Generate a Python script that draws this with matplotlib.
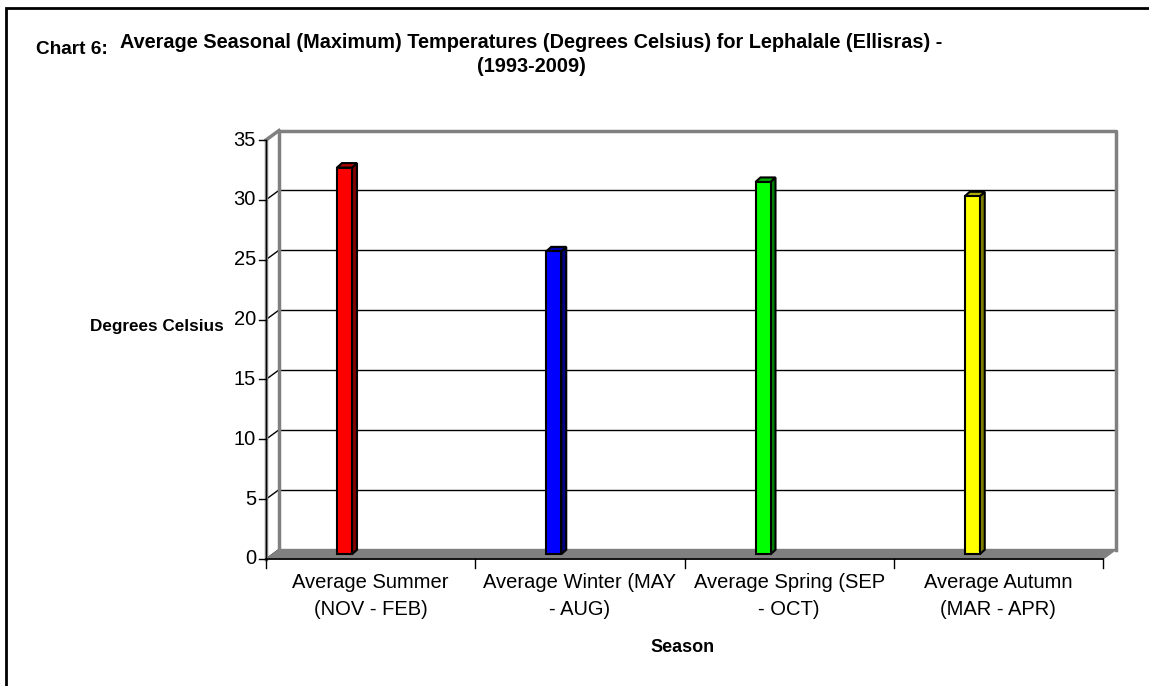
import matplotlib
matplotlib.use("Agg")
import matplotlib.pyplot as plt
from matplotlib.patches import Polygon, Rectangle
from matplotlib.lines import Line2D

plt.rcParams['font.family'] = ['Liberation Sans', 'DejaVu Sans']

categories = ["Average Summer\n(NOV - FEB)", "Average Winter (MAY\n- AUG)",
              "Average Spring (SEP\n- OCT)", "Average Autumn\n(MAR - APR)"]
values = [32.3, 25.3, 31.1, 29.9]
colors = ["#FF0000", "#0000FF", "#00FF00", "#FFFF00"]
side_colors = ["#800000", "#000080", "#008000", "#808000"]
top_colors = ["#B00000", "#0000B0", "#00B000", "#B0B000"]
yticks = [0, 5, 10, 15, 20, 25, 30, 35]

W, H = 1149, 686
fig = plt.figure(figsize=(W / 100, H / 100), dpi=100)

def fx(px):
    return px / W

def fy(py):
    return 1 - py / H

# front plane of plot in pixels
x0p, x1p, y0p, y1p = 266, 1103, 559, 140
ax = fig.add_axes([fx(x0p), fy(y0p), fx(x1p) - fx(x0p), fy(y1p) - fy(y0p)])
n = len(categories)
ymax = 35
ax.set_xlim(0, n)
ax.set_ylim(0, ymax)
ax.axis('off')

pxx = (x1p - x0p) / n          # pixels per category
pxy = (y0p - y1p) / ymax       # pixels per unit
DX = 13 / pxx                  # back-plane offset
DY = 9.5 / pxy

# back wall gridlines and diagonals
for v in yticks[1:]:
    ax.add_line(Line2D([DX, n + DX], [v + DY, v + DY], color='black', lw=1.0, clip_on=False, zorder=1))
for v in yticks:
    ax.add_line(Line2D([0, DX], [v, v + DY], color='black', lw=1.0, clip_on=False, zorder=1))
    ax.add_line(Line2D([-7 / pxx, 0], [v, v], color='black', lw=1.0, clip_on=False, zorder=3))

# back wall frame (gray)
ax.add_line(Line2D([DX, DX, n + DX, n + DX], [DY, ymax + DY, ymax + DY, DY],
                   color='#808080', lw=2.5, clip_on=False, zorder=2))
# left side wall edges
ax.add_line(Line2D([0, 0], [0, ymax], color='#808080', lw=2.5, clip_on=False, zorder=2))
ax.add_line(Line2D([0, DX], [ymax, ymax + DY], color='#808080', lw=2.5, clip_on=False, zorder=2))
ax.add_line(Line2D([0, 0], [0, ymax], color='black', lw=0.8, clip_on=False, zorder=3))

# floor
floor = Polygon([[0, 0], [DX, DY], [n + DX, DY], [n, 0]], closed=True,
                facecolor='#808080', edgecolor='#808080', lw=1, clip_on=False, zorder=2)
ax.add_patch(floor)
ax.add_line(Line2D([0, n], [0, 0], color='black', lw=1.2, clip_on=False, zorder=3))
for i in range(n + 1):
    ax.add_line(Line2D([i, i], [0, -9 / pxy], color='black', lw=1.0, clip_on=False, zorder=3))

# bars (at mid depth)
mdx, mdy = DX / 2, DY / 2
a = 64.5 / pxx
bw = 15 / pxx
ddx, ddy = 5 / pxx, 4.5 / pxy
for i, v in enumerate(values):
    xl = i + a + mdx
    xr = xl + bw
    yb = mdy
    yt = v + mdy
    front = Polygon([[xl, yb], [xr, yb], [xr, yt], [xl, yt]], closed=True,
                    facecolor=colors[i], edgecolor='black', lw=1.5, clip_on=False, zorder=5)
    side = Polygon([[xr, yb], [xr + ddx, yb + ddy], [xr + ddx, yt + ddy], [xr, yt]], closed=True,
                   facecolor=side_colors[i], edgecolor='black', lw=1.5, clip_on=False, zorder=5)
    top = Polygon([[xl, yt], [xr, yt], [xr + ddx, yt + ddy], [xl + ddx, yt + ddy]], closed=True,
                  facecolor=top_colors[i], edgecolor='black', lw=1.5, clip_on=False, zorder=5)
    ax.add_patch(side)
    ax.add_patch(top)
    ax.add_patch(front)

# tick labels
for v in yticks:
    ax.text(-10 / pxx, v, str(v), ha='right', va='center', fontsize=14.5, clip_on=False)
for i, c in enumerate(categories):
    ax.text(i + 0.5, -14.5 / pxy, c, ha='center', va='top', fontsize=14.5,
            linespacing=1.5, clip_on=False)

# axis titles
fig.text(fx(683), fy(647), "Season", ha='center', va='center', fontsize=13, fontweight='bold')
fig.text(fx(157), fy(327), "Degrees Celsius", ha='center', va='center', fontsize=12.3, fontweight='bold')

# chart title
fig.text(fx(36), fy(50), "Chart 6:", ha='left', va='center', fontsize=13.7, fontweight='bold')
fig.text(fx(531), fy(42), "Average Seasonal (Maximum) Temperatures (Degrees Celsius) for Lephalale (Ellisras) -",
         ha='center', va='center', fontsize=14.3, fontweight='bold')
fig.text(fx(531), fy(66), "(1993-2009)", ha='center', va='center', fontsize=14.3, fontweight='bold')

# outer border
fig.add_artist(Rectangle((fx(6), fy(700)), fx(1200) - fx(6), fy(8) - fy(700),
                         transform=fig.transFigure, fill=False, edgecolor='black', lw=2))

fig.savefig("out.png", dpi=100)
